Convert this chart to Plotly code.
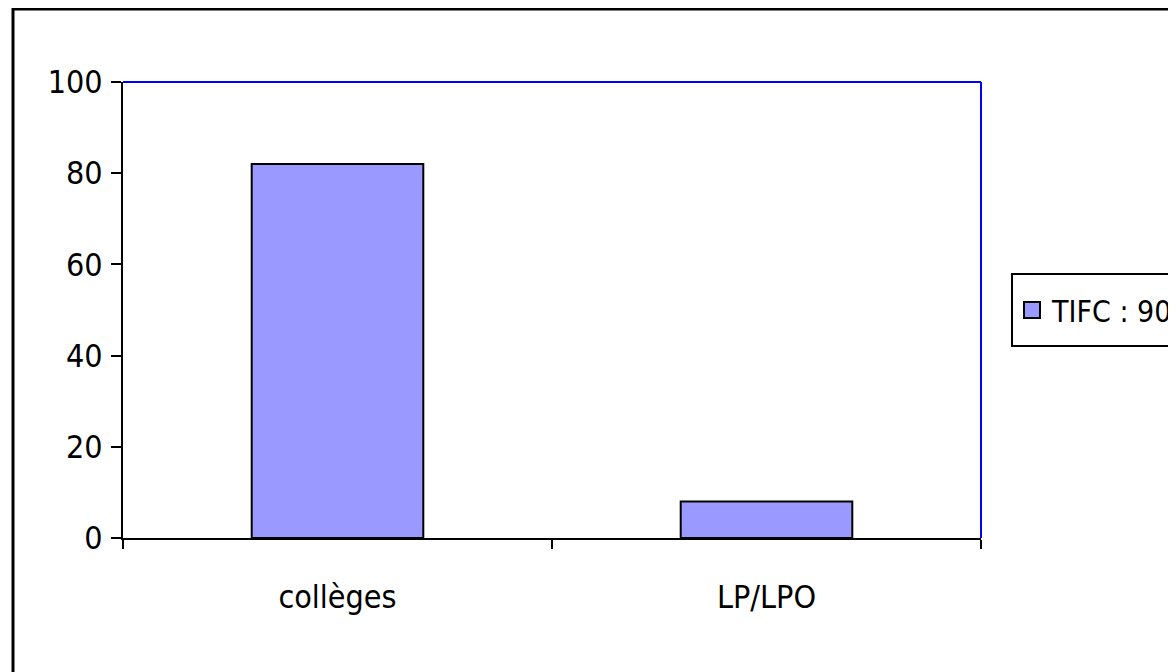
import plotly.graph_objects as go

categories = ["collèges", "LP/LPO"]
values = [82, 8]
series_name = "TIFC : 90"
y_ticks = [0, 20, 40, 60, 80, 100]

OFF = 8  # page body margin
W, H = 1176 - OFF, 672 - OFF
L, R, T, B = 123 - OFF, 981 - OFF, 82 - OFF, 538 - OFF

FAMILY = "DejaVu Sans Condensed, Liberation Sans Narrow, Liberation Sans"
FONT = dict(family=FAMILY, size=32, color="black")
LEG_FONT = dict(family=FAMILY, size=30, color="black")
BAR_COLOR = "#9999FF"

fig = go.Figure()
fig.add_trace(go.Bar(
    x=categories, y=values, name=series_name,
    marker=dict(color=BAR_COLOR, line=dict(color="black", width=2)),
    width=0.4, showlegend=False,
))
# legend entry with a larger square swatch
fig.add_trace(go.Scatter(
    x=[None], y=[None], mode="markers", name=series_name,
    marker=dict(symbol="square", size=18, color=BAR_COLOR, line=dict(color="black", width=2)),
    showlegend=True,
))

def px(x):
    return (x - OFF - L) / (R - L)

def py(y):
    return (B - (y - OFF)) / (B - T)

fig.update_layout(
    width=W, height=H,
    paper_bgcolor="white", plot_bgcolor="white",
    margin=dict(l=L, r=W - R, t=T, b=H - B, autoexpand=False),
    font=FONT,
    showlegend=True,
    legend=dict(
        x=px(1012), y=py(310), xanchor="left", yanchor="middle",
        xref="paper", yref="paper",
        borderwidth=0, bgcolor="rgba(0,0,0,0)",
        font=LEG_FONT, itemwidth=30, tracegroupgap=0,
    ),
    xaxis=dict(
        showline=True, linecolor="black", linewidth=2,
        ticks="outside", tickson="boundaries", ticklen=9, tickwidth=2, tickcolor="black",
        showgrid=False, zeroline=False, ticklabelstandoff=30,
    ),
    yaxis=dict(
        range=[0, 100], tickvals=y_ticks,
        showline=True, linecolor="black", linewidth=2,
        ticks="outside", ticklen=10, tickwidth=2, tickcolor="black",
        showgrid=False, zeroline=False, ticklabelstandoff=2,
    ),
    shapes=[
        dict(type="rect", xref="paper", yref="paper",
             x0=px(13), x1=px(1400), y0=py(9), y1=py(900),
             line=dict(color="black", width=3), fillcolor="rgba(0,0,0,0)", layer="below"),
        # legend frame
        dict(type="rect", xref="paper", yref="paper",
             x0=px(1012), x1=px(1400), y0=py(274), y1=py(346),
             line=dict(color="black", width=2), fillcolor="white", layer="below"),
        dict(type="line", xref="paper", yref="paper", x0=0, x1=1, y0=1, y1=1,
             line=dict(color="#0000FF", width=2)),
        dict(type="line", xref="paper", yref="paper", x0=1, x1=1, y0=0, y1=1,
             line=dict(color="#0000FF", width=2)),
    ],
)

fig.write_html("out.html")
